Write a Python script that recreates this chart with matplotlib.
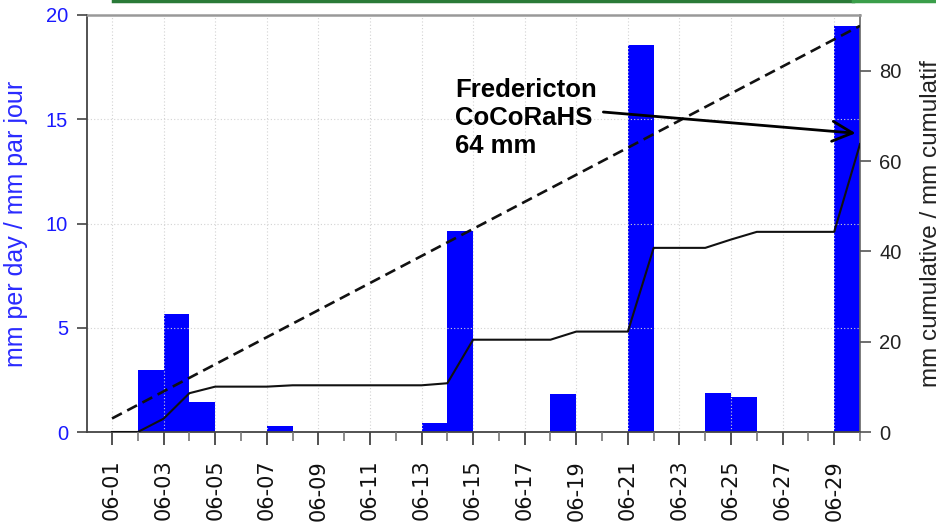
import numpy as np
import matplotlib
matplotlib.use("Agg")
import matplotlib.pyplot as plt
from matplotlib.lines import Line2D

plt.rcParams['font.family'] = ['Liberation Sans', 'DejaVu Sans']

# ---- data ----
days = ['06-01', '06-02', '06-03', '06-04', '06-05', '06-06', '06-07', '06-08',
        '06-09', '06-10', '06-11', '06-12', '06-13', '06-14', '06-15', '06-16',
        '06-17', '06-18', '06-19', '06-20', '06-21', '06-22', '06-23', '06-24',
        '06-25', '06-26', '06-27', '06-28', '06-29', '06-30']
daily_mm = [0.0, 0.0, 2.95, 5.65, 1.45, 0.0, 0.0, 0.3,
            0.0, 0.0, 0.0, 0.0, 0.0, 0.45, 9.65, 0.0,
            0.0, 0.0, 1.8, 0.0, 0.0, 18.55, 0.0, 0.0,
            1.85, 1.7, 0.0, 0.0, 0.0, 19.45]
normal_days = ['06-01', '06-30']
normal_cum = [3.0, 90.0]
tick_labels = days[::2]
station_text = "Fredericton\nCoCoRaHS\n64 mm"
left_label = "mm per day / mm par jour"
right_label = "mm cumulative / mm cumulatif"

x = np.arange(len(days))
cum = np.cumsum(daily_mm)
nx = [days.index(d) for d in normal_days]

W, H = 937, 523
fig = plt.figure(figsize=(W / 100, H / 100), dpi=100)
ax = fig.add_axes([87 / W, 1 - 432 / H, (860 - 87) / W, (432 - 15) / H])

blue = '#0000ff'
ax.bar(x, daily_mm, width=-1.0, align='edge', color=blue, edgecolor='none', zorder=1)
ax.set_xlim(-0.97, 29)
ax.set_ylim(0, 20)
ax.set_yticks([0, 5, 10, 15, 20])
ax.set_xticks(x[::2])
ax.set_xticklabels(tick_labels, rotation=90, family=['DejaVu Sans'])
ax.set_xticks(x[1::2], minor=True)
ax.tick_params(axis='y', colors='#444444', labelcolor='#1a1aff', labelsize=14.5,
               length=7.5, width=1.2, pad=6)
ax.tick_params(axis='x', which='major', colors='#444444', labelcolor='#111111',
               labelsize=15, length=9, width=1.3, pad=11)
ax.tick_params(axis='x', which='minor', colors='#777777', length=6.5, width=1.2)
ax.set_ylabel(left_label, color='#2a2aff', fontsize=18)
ax.yaxis.set_label_coords(-0.076, 0.5)

# grid (drawn over bars, like the original)
ax.set_axisbelow(False)
for xv in x[::2]:
    ax.axvline(xv, color='#d3d3d3', lw=0.8, ls=(0, (1, 2)), zorder=2)
for yv in [5, 10, 15]:
    ax.axhline(yv, color='#d3d3d3', lw=0.8, ls=(0, (1, 2)), zorder=2)

for s in ['left', 'bottom']:
    ax.spines[s].set_color('#444444')
    ax.spines[s].set_linewidth(1.3)
ax.spines['top'].set_color('#999999')
ax.spines['top'].set_linewidth(1.8)
ax.spines['right'].set_color('#666666')
ax.spines['right'].set_linewidth(1.2)

ax2 = ax.twinx()
ax2.set_ylim(0, 92.4)
ax2.set_yticks([0, 20, 40, 60, 80])
ax2.plot(x, cum, color='#111111', lw=1.5, zorder=3)
ax2.plot(nx, normal_cum, color='#111111', lw=1.9, ls=(0, (4.2, 2.3)), zorder=3)
ax2.tick_params(axis='y', colors='#555555', labelcolor='#222222', labelsize=14.5,
                length=8, width=1.2, pad=6)
ax2.set_ylabel(right_label, color='#222222', fontsize=17.5)
ax2.yaxis.set_label_coords(1.078, 0.5)
for s in ax2.spines.values():
    s.set_visible(False)

# annotation
ax2.text(13.31, 78.5, station_text, fontsize=18.5, fontweight='bold',
         color='#000000', ha='left', va='top', linespacing=1.23)
ax2.annotate('', xy=(28.83, 66.2), xytext=(19.05, 70.9),
             arrowprops=dict(arrowstyle='->, head_length=1.45, head_width=0.72',
                             color='#000000', lw=2.0, shrinkA=0, shrinkB=0))

# green frame remnant at top
fig.add_artist(Line2D([113 / W, 853 / W], [1 - 1 / H, 1 - 1 / H], color='#2a7a38', lw=2.5))
fig.add_artist(Line2D([853 / W, 1.0], [1 - 1 / H, 1 - 1 / H], color='#3a9e4a', lw=2.5))

fig.savefig('out.png', dpi=100)
